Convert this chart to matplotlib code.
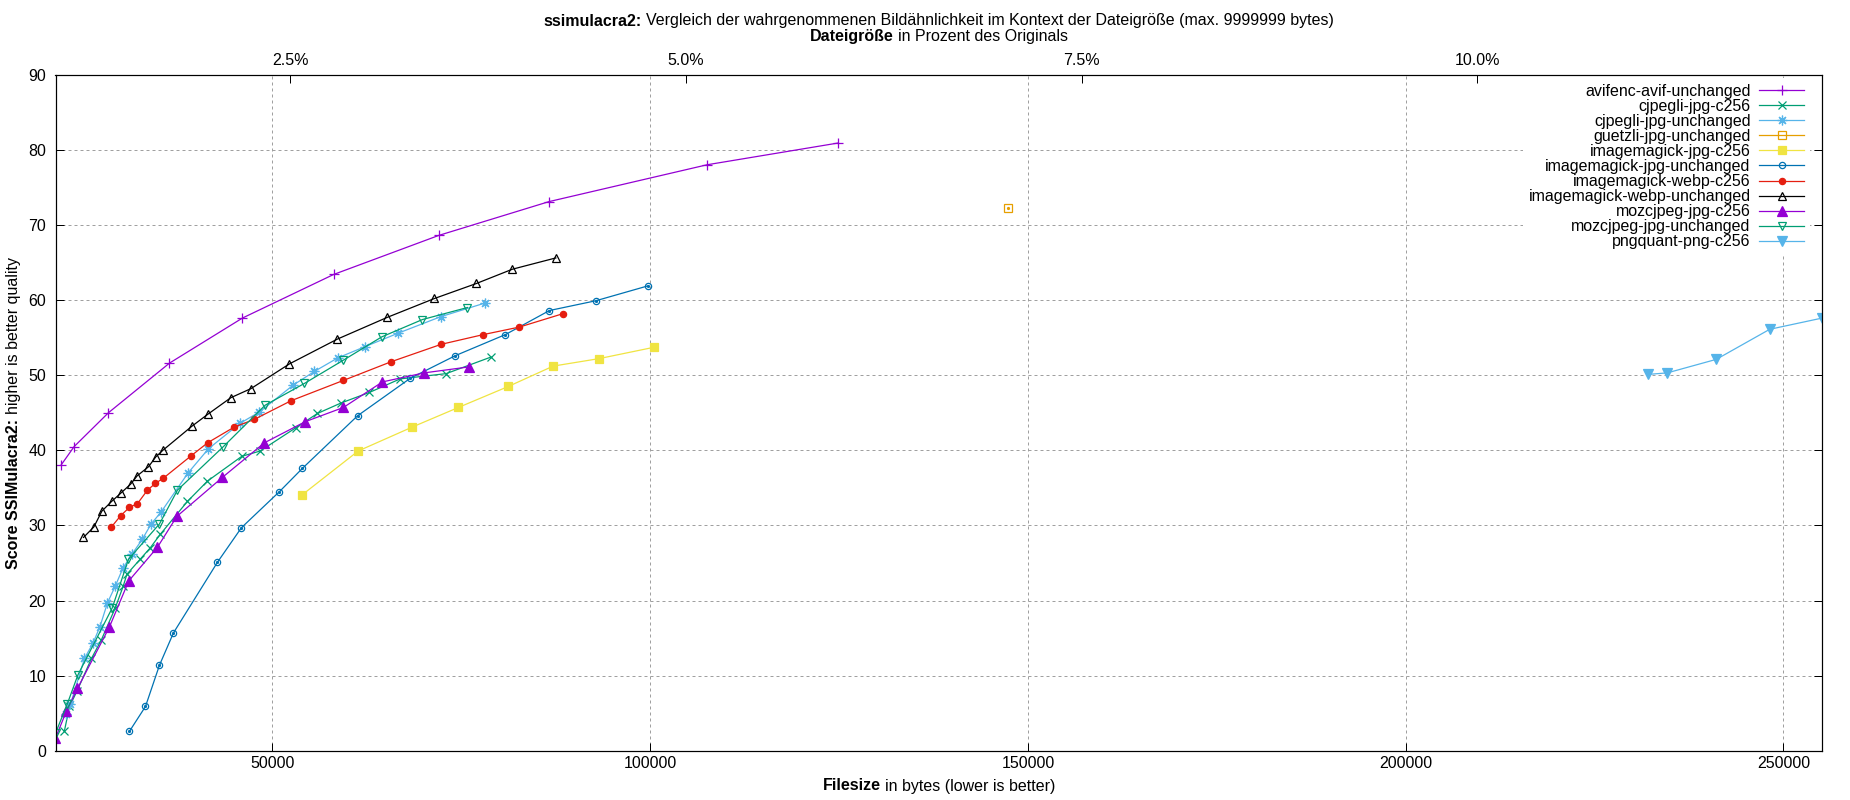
import numpy as np
import matplotlib
matplotlib.use("Agg")
import matplotlib.pyplot as plt
from matplotlib.transforms import IdentityTransform

plt.rcParams['font.family'] = ['Liberation Sans', 'DejaVu Sans']
plt.rcParams['font.size'] = 11.5

# size of the original image in bytes (for the percent axis on top)
ORIG_SIZE = 2094900
pct_ticks = [2.5, 5.0, 7.5, 10.0]
x_ticks = [50000, 100000, 150000, 200000, 250000]
y_ticks = list(range(0, 91, 10))

labels = ["avifenc-avif-unchanged", "cjpegli-jpg-c256", "cjpegli-jpg-unchanged",
          "guetzli-jpg-unchanged", "imagemagick-jpg-c256", "imagemagick-jpg-unchanged",
          "imagemagick-webp-c256", "imagemagick-webp-unchanged", "mozcjpeg-jpg-c256",
          "mozcjpeg-jpg-unchanged", "pngquant-png-c256"]

avif_x = [21993, 23753, 28293, 36367, 46029, 58100, 72025, 86624, 107537, 124916]
avif_y = [38.0, 40.5, 45.0, 51.6, 57.6, 63.4, 68.6, 73.1, 78.0, 80.9]

cjpegli_c256_x = [22469, 23131, 24150, 26043, 27366, 29180, 30239, 30728, 32489, 33812, 35136,
                  38749, 41397, 45950, 48372, 53097, 55956, 59093, 62839, 66902, 72991, 78907]
cjpegli_c256_y = [2.7, 5.9, 8.0, 12.3, 14.8, 19.0, 21.9, 23.5, 25.5, 27.0, 28.8,
                  33.2, 35.9, 39.2, 39.9, 43.0, 44.9, 46.3, 47.7, 49.5, 50.2, 52.4]

cjpegli_x = [22694, 23263, 25116, 26228, 27155, 28161, 29180, 30199, 31430, 32793, 33945, 35268,
             38842, 41529, 45725, 48279, 52780, 55559, 58656, 62270, 66677, 72329, 78153]
cjpegli_y = [4.9, 6.2, 12.3, 14.3, 16.5, 19.7, 21.9, 24.3, 26.2, 28.2, 30.2, 31.8,
             37.0, 40.2, 43.6, 45.1, 48.7, 50.5, 52.3, 53.8, 55.6, 57.8, 59.6]

guetzli_x = [147417]
guetzli_y = [72.3]

im_jpg_c256_x = [53971, 61343, 68530, 74619, 81237, 87153, 93242, 100469]
im_jpg_c256_y = [34.1, 39.9, 43.1, 45.7, 48.5, 51.2, 52.2, 53.7]

im_jpg_x = [31073, 33190, 35043, 36896, 42720, 45897, 50927, 53971, 61277, 68266,
            74222, 80840, 86664, 92805, 99767]
im_jpg_y = [2.6, 5.9, 11.4, 15.7, 25.1, 29.7, 34.5, 37.6, 44.6, 49.6,
            52.6, 55.4, 58.6, 59.9, 61.9]

im_webp_c256_x = [28690, 29908, 31073, 32131, 33455, 34514, 35573, 39279, 41423, 44957,
                  47578, 52475, 59398, 65751, 72329, 77928, 82693, 88517]
im_webp_c256_y = [29.8, 31.3, 32.4, 32.9, 34.7, 35.6, 36.3, 39.3, 41.0, 43.1,
                  44.1, 46.6, 49.3, 51.8, 54.1, 55.4, 56.4, 58.2]

im_webp_x = [24984, 26360, 27419, 28717, 29934, 31231, 32092, 33587, 34540, 35493, 39332,
             41450, 44494, 47141, 52250, 58603, 65221, 71442, 77001, 81766, 87511]
im_webp_y = [28.4, 29.8, 31.9, 33.2, 34.3, 35.5, 36.6, 37.8, 39.1, 40.0, 43.2,
             44.8, 47.0, 48.2, 51.5, 54.8, 57.7, 60.2, 62.2, 64.1, 65.6]

moz_c256_x = [21278, 22734, 24190, 28425, 30967, 34779, 37346, 43382, 48941, 54328,
              59398, 64560, 70079, 76035]
moz_c256_y = [1.7, 5.3, 8.3, 16.5, 22.6, 27.1, 31.2, 36.4, 41.0, 43.8,
              45.7, 49.1, 50.3, 51.1]

moz_x = [21304, 22826, 24243, 28783, 30940, 35043, 37426, 43514, 49034, 54236,
         59398, 64480, 69854, 75810]
moz_y = [2.4, 6.2, 10.1, 19.0, 25.5, 30.2, 34.7, 40.5, 46.0, 48.9,
         52.0, 55.1, 57.4, 59.0]

pngquant_x = [232127, 234642, 241128, 248195, 255158]
pngquant_y = [50.1, 50.3, 52.1, 56.1, 57.6]

xs = [avif_x, cjpegli_c256_x, cjpegli_x, guetzli_x, im_jpg_c256_x, im_jpg_x,
      im_webp_c256_x, im_webp_x, moz_c256_x, moz_x, pngquant_x]
ys = [avif_y, cjpegli_c256_y, cjpegli_y, guetzli_y, im_jpg_c256_y, im_jpg_y,
      im_webp_c256_y, im_webp_y, moz_c256_y, moz_y, pngquant_y]

# gnuplot-like styles: colour, marker, filled, size
styles = [("#9400d3", "+", True, 7),
          ("#009e73", "x", True, 6),
          ("#56b4e9", (8, 2, 0), True, 7),
          ("#e69f00", "s", False, 5.5),
          ("#f0e442", "s", True, 5.5),
          ("#0072b2", "o", False, 4.5),
          ("#e51e10", "o", True, 4.5),
          ("#000000", "^", False, 6),
          ("#9400d3", "^", True, 6.5),
          ("#009e73", "v", False, 6),
          ("#56b4e9", "v", True, 6.5)]


# text with a bold head and normal tail, centred at (x, y) in pixels
def mixed_text(fig, x, y, head, tail, rotation=0):
    r = fig.canvas.get_renderer()
    def width(s, w):
        t = fig.text(0, 0, s, fontweight=w)
        wd = t.get_window_extent(r).width
        t.remove()
        return wd
    w1 = width(head, "bold")
    gap = width("x x", "normal") - width("xx", "normal")
    w2 = width(tail, "normal")
    start = -(w1 + gap + w2) / 2
    tr = IdentityTransform()
    if rotation == 0:
        fig.text(x + start, y, head, fontweight="bold", ha="left", va="center", transform=tr)
        fig.text(x + start + w1 + gap, y, tail, ha="left", va="center", transform=tr)
    else:
        fig.text(x, y + start, head, fontweight="bold", rotation=90, ha="center",
                 va="bottom", transform=tr)
        fig.text(x, y + start + w1 + gap, tail, rotation=90, ha="center",
                 va="bottom", transform=tr)


W, H = 1850, 800
fig = plt.figure(figsize=(W / 100, H / 100), dpi=100)
left, right, top, bottom = 55.5, 1822.3, 74.6, 750.8
ax = fig.add_axes([left / W, 1 - bottom / H, (right - left) / W, (bottom - top) / H])

for i in range(len(labels)):
    c, m, filled, s = styles[i]
    ax.plot(xs[i], ys[i], color=c, lw=0.9, marker=m, ms=s,
            mfc=c if filled else "none", mec=c, mew=0.9, label=labels[i])
    if not filled and m in ("o", "s"):
        ax.plot(xs[i], ys[i], ls="none", marker="o", ms=1.3, color=c)

all_x = np.concatenate([np.array(v) for v in xs])
ax.set_xlim(all_x.min(), all_x.max())
ax.set_ylim(0, 90)
ax.set_xticks(x_ticks)
ax.set_yticks(y_ticks)
ax.tick_params(direction="in", length=5.5, width=0.72, top=True, right=True)
ax.tick_params(axis="y", pad=6.8)
ax.tick_params(axis="x", pad=3.6)
ax.grid(True, color="#a0a0a0", lw=0.72, linestyle=(0, (3, 3)))
ax.set_axisbelow(True)
for sp in ax.spines.values():
    sp.set_linewidth(0.8)

ax2 = ax.twiny()
ax2.set_xlim(ax.get_xlim())
ax2.set_xticks([p / 100 * ORIG_SIZE for p in pct_ticks])
ax2.set_xticklabels(["%.1f%%" % p for p in pct_ticks])
ax2.tick_params(direction="in", length=5.5, width=0.72, pad=4.5)

ax.legend(loc="upper right",
          bbox_to_anchor=(1 - 12.7 / (right - left), 1 - 3.5 / (bottom - top)),
          markerfirst=False, frameon=True, fancybox=False, edgecolor="none",
          facecolor="white", framealpha=1, handlelength=2.8, handletextpad=0.55,
          labelspacing=0.005, borderpad=0.35, borderaxespad=0)

cx = (left + right) / 2
mixed_text(fig, cx, H - 21, "ssimulacra2:",
           "Vergleich der wahrgenommenen Bildähnlichkeit im Kontext der Dateigröße (max. 9999999 bytes)")
mixed_text(fig, cx, H - 37, "Dateigröße", "in Prozent des Originals")
mixed_text(fig, cx, H - 786, "Filesize", "in bytes (lower is better)")
mixed_text(fig, 14, H - (top + bottom) / 2, "Score SSIMulacra2:", "higher is better quality",
           rotation=90)

fig.savefig("out.png", dpi=100)
